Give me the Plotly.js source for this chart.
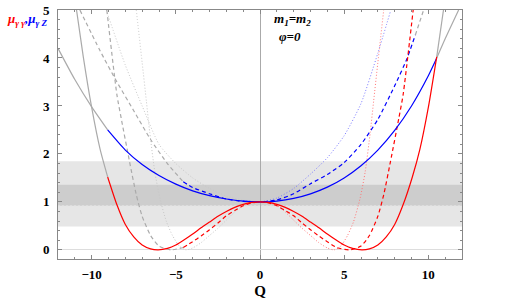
<!DOCTYPE html>
<html><head><meta charset="utf-8">
<script src="https://cdn.plot.ly/plotly-3.0.1.min.js"></script>
<style>body{margin:0;background:#fff}#chart{width:510px;height:299px}</style>
</head><body><div id="chart"></div>
<script>
// ---- data ----
const redSolidQ = [-10.9,-10.5,-10,-9.5,-9.05,-8.5,-8,-7.5,-7,-6.5,-6.05,-5.5,-5,-4.5,-4,-3.5,-3,-2.5,-2,-1.5,-1,-0.5,0,0.5,1,1.5,2,2.5,3,3.5,4,4.5,5,5.5,6.05,6.5,7,7.5,8,8.5,9.05,9.5,10,10.5,10.9];
const redSolidM = [5.0,4.03,2.97,2.1,1.52,0.94,0.53,0.27,0.1,0.02,0,0.03,0.1,0.21,0.33,0.46,0.58,0.70,0.80,0.885,0.95,0.99,1,0.99,0.95,0.885,0.80,0.70,0.58,0.46,0.33,0.21,0.1,0.03,0,0.02,0.1,0.27,0.53,0.94,1.52,2.1,2.97,4.03,5.0];
const redSolidRange = [-9.05, 10.5];

const blueSolidQ = [-12,-11,-10,-9.05,-8,-7,-6,-5,-4,-3,-2,-1,0,1,2,3,4,5,6,7,8,9,10,10.5,11,11.8];
const blueSolidM = [4.2,3.55,2.98,2.5,2.08,1.78,1.55,1.37,1.23,1.13,1.06,1.015,1,1.018,1.073,1.168,1.308,1.5,1.754,2.08,2.49,3.0,3.63,4.0,4.4,5.0];
const blueSolidRange = [-9.05, 10.5];

const redDashQ = [-9.1,-8.5,-8.25,-7.75,-7.35,-7,-6.5,-6,-5.3,-4.56,-4,-3.5,-3,-2.5,-2,-1.5,-1,-0.5,0,0.5,1,1.5,2,2.5,3,3.5,4,4.56,5.3,6,6.5,7,7.35,7.75,8.25,8.5,9.1];
const redDashM = [5.0,3.23,2.75,1.84,1.15,0.7,0.3,0.08,0,0.05,0.17,0.29,0.42,0.56,0.71,0.82,0.92,0.98,1,0.98,0.92,0.82,0.71,0.56,0.42,0.29,0.17,0.05,0,0.08,0.3,0.7,1.15,1.84,2.75,3.23,5.0];
const redDashRange = [-4.56, 9.1];

const blueDashQ = [-10.7,-9.5,-8.5,-7.5,-6.5,-5.5,-4.56,-4,-3,-2,-1,0,1,2,3,4,5,6,7,8,8.7,9.23,9.72];
const blueDashM = [5.0,4.15,3.5,2.9,2.3,1.8,1.42,1.3,1.17,1.06,1.01,1,1.04,1.17,1.38,1.57,1.82,2.2,2.72,3.42,3.96,4.48,5.0];
const blueDashRange = [-4.56, 9.23];

const redDotQ = [-7.35,-7,-6.75,-6.55,-6.25,-5.95,-5.56,-5.2,-4.8,-4.4,-4,-3.5,-3,-2.5,-2,-1.5,-1,-0.5,0,0.5,1,1.5,2,2.5,3,3.5,4,4.4,4.8,5.2,5.56,5.95,6.25,6.55,6.75,7,7.35];
const redDotM = [5.0,3.9,3.1,2.45,1.63,1.08,0.59,0.3,0.08,0,0.04,0.15,0.3,0.45,0.62,0.79,0.93,0.98,1,0.98,0.93,0.79,0.62,0.45,0.3,0.15,0.04,0,0.08,0.3,0.59,1.08,1.63,2.45,3.1,3.9,5.0];
const redDotRange = [-1, 7.35];

const blueDotQ = [-9.13,-8,-7,-6,-5,-4,-3,-2,-1,0,1,2,3,4,5,6,7,7.74];
const blueDotM = [5.0,3.85,3.0,2.2,1.8,1.5,1.28,1.12,1.03,1,1.08,1.28,1.58,1.92,2.38,3.05,4.1,4.96];
const blueDotRange = [-1, 7.74];

const outerBand = [0.49, 1.85];
const innerBand = [0.92, 1.36];

const xTicks = [-10, -5, 0, 5, 10];
const yTicks = [0, 1, 2, 3, 4, 5];

// ---- build traces ----
function segs(q, m, range, color, grayColor, dash, width) {
  const out = [];
  const parts = [
    {f: v => v <= range[0], c: grayColor},
    {f: v => v >= range[0] && v <= range[1], c: color},
    {f: v => v >= range[1], c: grayColor}
  ];
  parts.forEach(p => {
    const xs = [], ys = [];
    q.forEach((v, i) => { if (p.f(v)) { xs.push(v); ys.push(m[i]); } });
    if (xs.length > 1) out.push({x: xs, y: ys, type: 'scatter', mode: 'lines',
      line: {color: p.c, width: width, dash: dash, shape: 'spline', smoothing: 0.6},
      hoverinfo: 'skip', showlegend: false, cliponaxis: true});
  });
  return out;
}
const traces = [].concat(
  segs(blueDotQ, blueDotM, blueDotRange, 'rgb(120,120,255)', 'rgb(200,200,200)', '1px,2px', 1),
  segs(redDotQ, redDotM, redDotRange, 'rgb(255,120,120)', 'rgb(200,200,200)', '1px,2px', 1),
  segs(blueDashQ, blueDashM, blueDashRange, '#0000ff', 'rgb(170,170,170)', '4px,3px', 1.2),
  segs(redDashQ, redDashM, redDashRange, '#ff0000', 'rgb(170,170,170)', '4px,3px', 1.2),
  segs(blueSolidQ, blueSolidM, blueSolidRange, '#0000ff', 'rgb(170,170,170)', 'solid', 1.2),
  segs(redSolidQ, redSolidM, redSolidRange, '#ff0000', 'rgb(170,170,170)', 'solid', 1.2)
);

const tickFont = {family: 'Liberation Serif', size: 13, color: '#000', weight: 'bold'};
const layout = {
  width: 510, height: 299,
  margin: {l: 58, r: 48, t: 10, b: 40},
  paper_bgcolor: '#fff', plot_bgcolor: '#fff',
  showlegend: false,
  xaxis: {range: [-12, 12], tickvals: xTicks, ticktext: xTicks.map(v => v < 0 ? '\u2212' + (-v) : String(v)),
    ticks: 'inside', ticklen: 4, tickcolor: '#888', tickwidth: 1,
    minor: {dtick: 1, ticks: 'inside', ticklen: 2, tickcolor: '#888'},
    showline: true, linecolor: '#888', linewidth: 1, mirror: 'ticks',
    showgrid: false, zeroline: true, zerolinecolor: '#aaa', zerolinewidth: 1,
    tickfont: tickFont, ticklabelstandoff: 3,
    title: {text: 'Q', font: {family: 'Liberation Serif', size: 15, weight: 'bold', color: '#000'}, standoff: 6}},
  yaxis: {range: [-0.19, 5], tickvals: yTicks, ticktext: yTicks.map(String),
    ticks: 'inside', ticklen: 4, tickcolor: '#888', tickwidth: 1,
    minor: {dtick: 0.2, ticks: 'inside', ticklen: 2, tickcolor: '#888'},
    showline: true, linecolor: '#888', linewidth: 1, mirror: 'ticks',
    showgrid: false, zeroline: true, zerolinecolor: '#ddd', zerolinewidth: 1,
    tickfont: tickFont, ticklabelstandoff: 5},
  shapes: [
    {type: 'rect', xref: 'paper', x0: 0, x1: 1, yref: 'y', y0: outerBand[0], y1: outerBand[1], fillcolor: 'rgb(230,230,230)', line: {width: 0}, layer: 'below'},
    {type: 'rect', xref: 'paper', x0: 0, x1: 1, yref: 'y', y0: innerBand[0], y1: innerBand[1], fillcolor: 'rgb(205,205,205)', line: {width: 0}, layer: 'below'},
    {type: 'line', xref: 'paper', x0: 0, x1: 1, yref: 'y', y0: innerBand[0], y1: innerBand[0], line: {color: 'rgb(225,225,225)', width: 1, dash: '2px,2px'}, layer: 'below'}
  ],
  annotations: [
    {xref: 'paper', yref: 'paper', x: -0.02, y: 0.962, xanchor: 'right', yanchor: 'middle', showarrow: false,
     text: '<span style="color:#ff0000">\u03bc<sub>\u03b3 \u03b3</sub></span><span style="color:#0000ff">,\u03bc<sub>\u03b3 Z</sub></span>',
     font: {family: 'Liberation Serif', size: 13, weight: 'bold', style: 'italic'}},
    {xref: 'x', yref: 'paper', x: 0.7, y: 0.962, xanchor: 'left', yanchor: 'middle', showarrow: false,
     text: 'm<sub>1</sub>=m<sub>2</sub>', font: {family: 'Liberation Serif', size: 13, weight: 'bold', style: 'italic', color: '#000'}},
    {xref: 'x', yref: 'paper', x: 1.0, y: 0.893, xanchor: 'left', yanchor: 'middle', showarrow: false,
     text: '\u03c6=0', font: {family: 'Liberation Serif', size: 13, weight: 'bold', style: 'italic', color: '#000'}}
  ]
};
Plotly.newPlot('chart', traces, layout, {staticPlot: true, displayModeBar: false});
</script>
</body></html>
